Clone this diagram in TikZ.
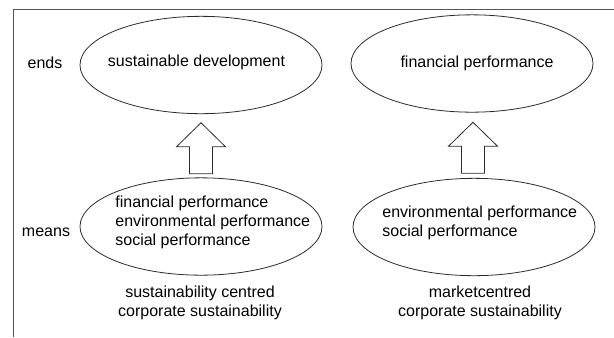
\documentclass[tikz,border=0pt]{standalone}
\usepackage{fontspec}
\setmainfont{Liberation Sans}
\usetikzlibrary{shapes.geometric, positioning, calc}
\definecolor{cline}{HTML}{2B2B2B}
\definecolor{cframe}{HTML}{555555}
\tikzset{
  every picture/.style={line width=0.6pt, x=0.75pt, y=-0.75pt},
  oval/.style={draw=cline, ellipse, minimum width=181.5pt, minimum height=73pt, inner sep=0pt},
  txt/.style={font=\fontsize{12}{14.3}\selectfont, align=#1, inner sep=0pt},
  txt/.default=center,
  blockarrow/.style={draw=cline, line join=miter},
}
\begin{document}
\begin{tikzpicture}
  \useasboundingbox (0,0) rectangle (614,337);
  \draw[cframe] (13,337) |- (614,9);
  \node[oval] (sd) at (201,65) {};
  \node[oval] (fp) at (472,63.5) {};
  \node[oval] (scm) at (201,226.5) {};
  \node[oval] (mcm) at (474,227) {};
  \node[txt] (ends) at (45,63) {ends};
  \node[txt] (means) at (46,232) {means};
  \node[txt] (sdtext) at (196.5,62) {sustainable development};
  \node[txt] (fptext) at (477,63) {financial performance};
  \node[txt=left, anchor=west] (scmtext) at (115,222) {financial performance\\environmental performance\\social performance};
  \node[txt=left, anchor=west] (mcmtext) at (382,223) {environmental performance\\social performance};
  \node[txt] (sclabel) at (200,302.5) {sustainability centred\\corporate sustainability};
  \node[txt] (mclabel) at (480,302.5) {marketcentred\\corporate sustainability};
  \foreach \top/\bot in {sd/scm, fp/mcm}
    \draw[blockarrow] ($(\top.south)!0.5!(\bot.north)$) ++(0,-23) coordinate (tip\top)
      -- ++(24.5,24) -- ++(-13,0) -- ++(0,27) -- ++(-23,0) -- ++(0,-27) -- ++(-13,0) -- cycle;
\end{tikzpicture}
\end{document}
